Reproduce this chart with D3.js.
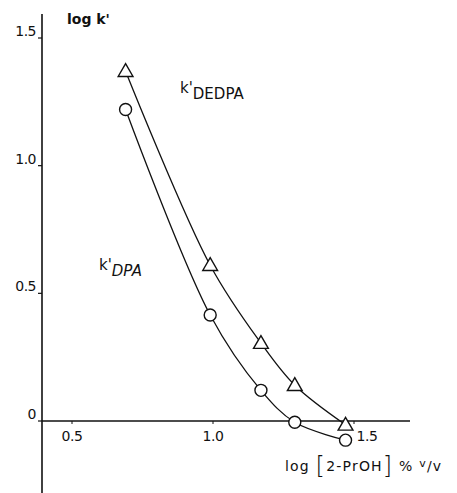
<!DOCTYPE html>
<html>
<head>
<meta charset="utf-8">
<script src="https://cdn.jsdelivr.net/npm/d3@7"></script>
<style>
  body { margin: 0; background: #fff; }
  text { font-family: "DejaVu Sans", Arial, sans-serif; fill: #111; }
</style>
</head>
<body>
<div id="chart"></div>
<script>
// values
const logPrOH = [0.69, 0.99, 1.17, 1.29, 1.47];
const logKDEDPA = [1.37, 0.61, 0.305, 0.14, -0.015];
const logKDPA = [1.22, 0.415, 0.12, -0.005, -0.075];
const xTicks = [0.5, 1.0, 1.5];
const yTicks = [0, 0.5, 1.0, 1.5];

const width = 457, height = 493;

const svg = d3.select("#chart").append("svg")
  .attr("width", width)
  .attr("height", height);

// scales
const x = d3.scaleLinear().domain([0.5, 1.5]).range([72, 354]);
const y = d3.scaleLinear().domain([0, 1.5]).range([421, 38]);

// y axis line (runs past the bottom)
svg.append("line")
  .attr("x1", 42).attr("x2", 42)
  .attr("y1", 14).attr("y2", height)
  .attr("stroke", "#111").attr("stroke-width", 1.6);

// x axis line
svg.append("line")
  .attr("x1", 42).attr("x2", 410)
  .attr("y1", y(0)).attr("y2", y(0))
  .attr("stroke", "#111").attr("stroke-width", 1.4);

// y ticks + labels
svg.selectAll(".yt").data(yTicks).enter().append("line")
  .attr("x1", 38).attr("x2", 42)
  .attr("y1", d => y(d)).attr("y2", d => y(d))
  .attr("stroke", "#111").attr("stroke-width", 1.2);

svg.selectAll(".yl").data(yTicks).enter().append("text")
  .attr("x", 36)
  .attr("y", d => y(d) - 2)
  .attr("text-anchor", "end")
  .attr("font-size", 14)
  .attr("letter-spacing", -0.5)
  .text(d => d === 0 ? "0" : d.toFixed(1));

// x ticks + labels
svg.selectAll(".xt").data(xTicks).enter().append("line")
  .attr("x1", d => x(d)).attr("x2", d => x(d))
  .attr("y1", y(0)).attr("y2", y(0) + 3)
  .attr("stroke", "#111").attr("stroke-width", 1);

svg.selectAll(".xl").data(xTicks).enter().append("text")
  .attr("x", d => x(d) + (d === 1.5 ? 13 : 0))
  .attr("y", y(0) + 20)
  .attr("text-anchor", "middle")
  .attr("font-size", 14)
  .attr("letter-spacing", -0.5)
  .text(d => d.toFixed(1));

// curves
const line = d3.line()
  .x((d, i) => x(logPrOH[i]))
  .y(d => y(d))
  .curve(d3.curveCatmullRom.alpha(0.5));

[logKDEDPA, logKDPA].forEach(series => {
  svg.append("path")
    .attr("d", line(series))
    .attr("fill", "none")
    .attr("stroke", "#111")
    .attr("stroke-width", 1.3);
});

// markers
const tri = d3.symbol().type(d3.symbolTriangle).size(95);
svg.selectAll(".tri").data(logKDEDPA).enter().append("path")
  .attr("d", tri)
  .attr("transform", (d, i) => `translate(${x(logPrOH[i])},${y(d) + 1})`)
  .attr("fill", "#fff")
  .attr("stroke", "#111")
  .attr("stroke-width", 1.4);

svg.selectAll(".circ").data(logKDPA).enter().append("circle")
  .attr("cx", (d, i) => x(logPrOH[i]))
  .attr("cy", d => y(d))
  .attr("r", 6)
  .attr("fill", "#fff")
  .attr("stroke", "#111")
  .attr("stroke-width", 1.4);

// labels
svg.append("text")
  .attr("x", 67).attr("y", 24)
  .attr("font-size", 14)
  .attr("font-weight", "bold")
  .text("log k'");

const l1 = svg.append("text").attr("x", 180).attr("y", 93).attr("font-size", 15);
l1.append("tspan").text("k'");
l1.append("tspan").attr("dy", 6).text("DEDPA");

const l2 = svg.append("text").attr("x", 99).attr("y", 270).attr("font-size", 15);
l2.append("tspan").text("k'");
l2.append("tspan").attr("dy", 6).attr("font-style", "italic").text("DPA");

// x axis title
const t = svg.append("text").attr("x", 285).attr("y", 471).attr("font-size", 14)
  .attr("letter-spacing", 1.2);
t.append("tspan").text("log ");
t.append("tspan").attr("font-size", 24).attr("dy", 3).attr("font-weight", 300).text("[");
t.append("tspan").attr("dy", -3).text("2-PrOH");
t.append("tspan").attr("font-size", 24).attr("dy", 3).attr("font-weight", 300).text("]");
t.append("tspan").attr("dy", -3).text(" % ");
t.append("tspan").attr("font-size", 11).attr("dy", -4).text("v");
t.append("tspan").attr("font-size", 14).attr("dy", 4).text("/v");
</script>
</body>
</html>
